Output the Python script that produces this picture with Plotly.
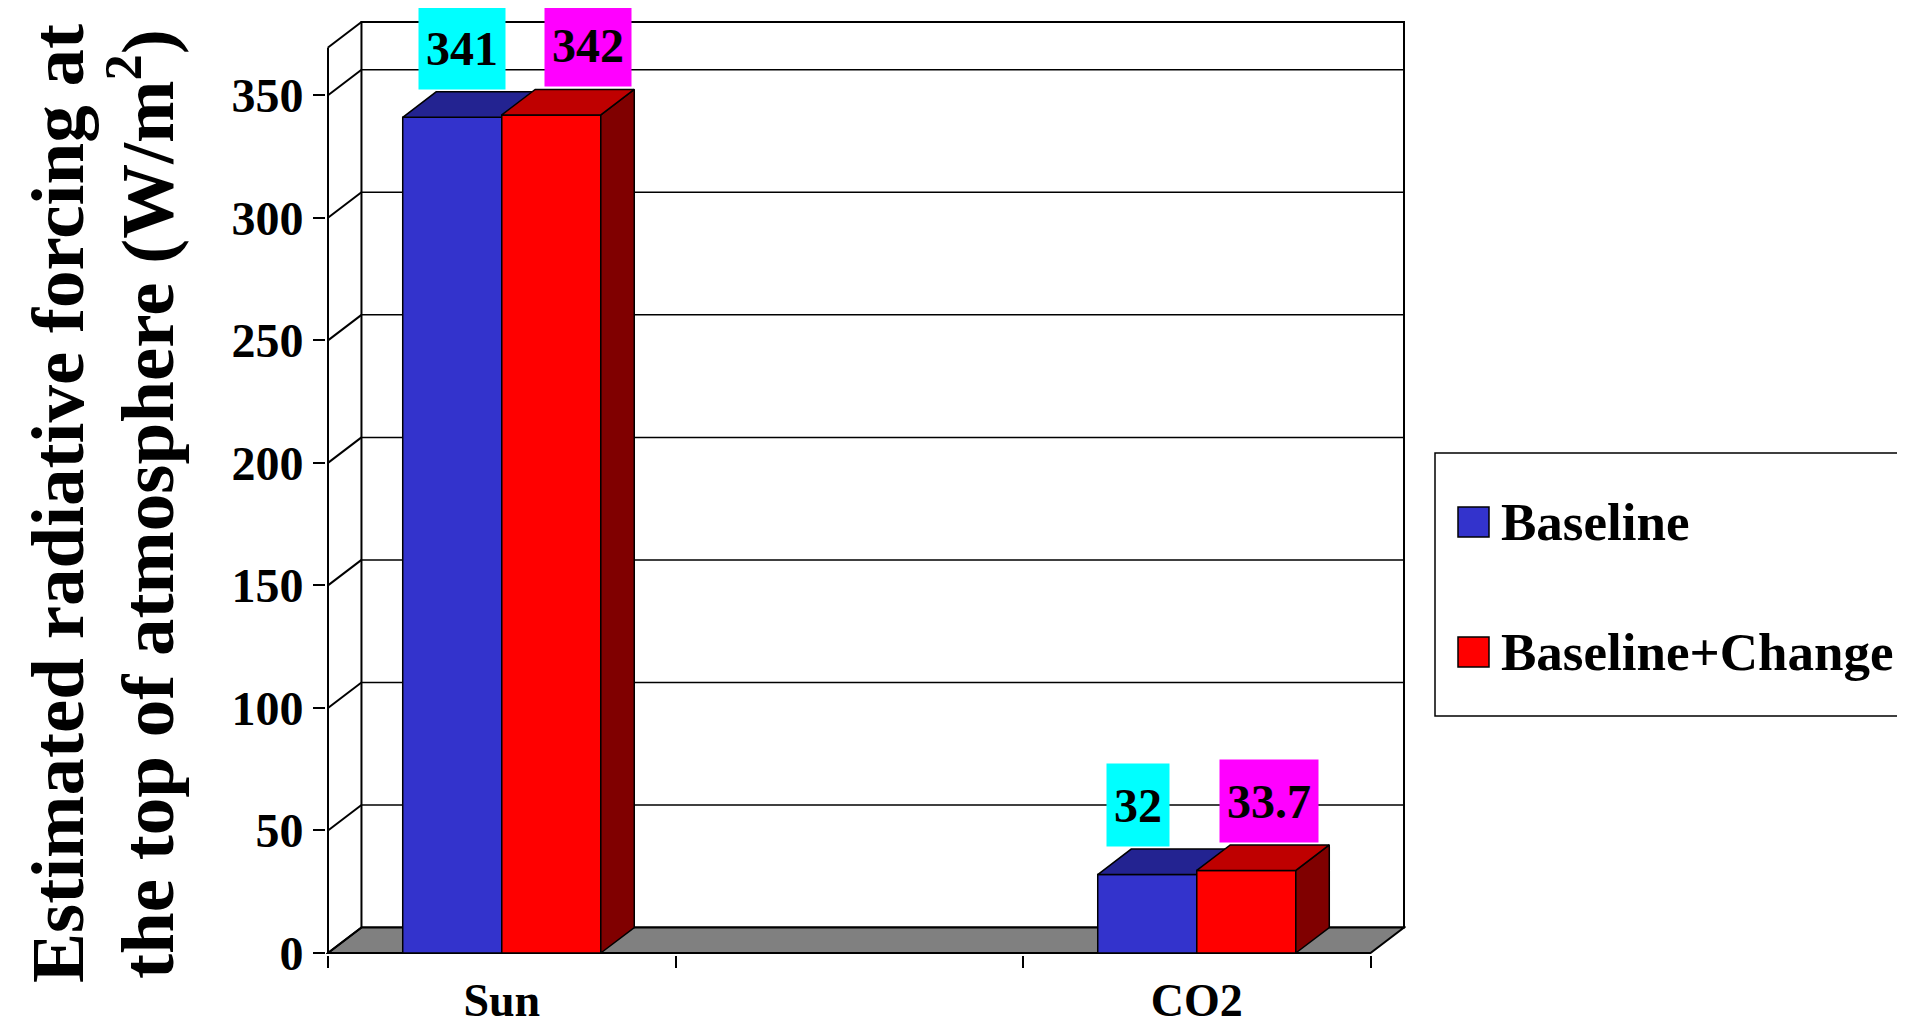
import plotly.graph_objects as go

# ---------------- data ----------------
CATEGORIES = ["Sun", " ", "CO2"]          # middle slot is an empty category
BASELINE = [341, None, 32]
BASELINE_CHANGE = [342, None, 33.7]
SERIES_NAMES = ["Baseline", "Baseline+Change"]
Y_TICKS = [0, 50, 100, 150, 200, 250, 300, 350]
Y_TITLE_LINES = ["Estimated radiative forcing at",
                 "the top of atmosphere (W/m<sup>2</sup>)"]

# ---------------- style / geometry ----------------
BODY = 8                  # default page body margin of the html page
FIG_W, FIG_H = 1905 - BODY, 1025 - BODY
PX_X, PX_Y, PAD = 347.5, 2.4507, 2
WALL_TOP = 369.5          # front height of the walls (value units)
DX = 0.0963               # 3D depth offset, x units
DY = 10.4                 # 3D depth offset, value units
BAR_W = 0.285
FONT = "Liberation Serif, Times New Roman, serif"
FRONT = ["#3333CC", "#FF0000"]
TOP = ["#232391", "#BF0000"]
SIDE = ["#1A1A66", "#800000"]
LABEL_BG = ["#00FFFF", "#FF00FF"]
LABEL_XSHIFT = [[-7, 0, -26], [20, 0, 6]]   # per-label nudges (px)
OFFSETS = [-BAR_W, 0.0]

L_PX, R_PX, T_PX, B_PX = 328 - PAD - BODY, 1404 + PAD - BODY, 22 - PAD - BODY, 953 + PAD - BODY
x_range = [-0.5 - PAD / PX_X, 2.5 + DX + PAD / PX_X]
y_range = [-PAD / PX_Y, WALL_TOP + DY + PAD / PX_Y]


def px_to_paper_x(px):
    return (px - BODY - L_PX) / (R_PX - L_PX)


def px_to_paper_y(py):
    return (B_PX - (py - BODY)) / (B_PX - T_PX)


xpos = list(range(len(CATEGORIES)))


def faces(offset, values):
    tx, ty, sx, sy = [], [], [], []
    for x, v in zip(xpos, values):
        if v is None:
            continue
        xl = x + offset
        xr = xl + BAR_W
        tx += [xl, xr, xr + DX, xl + DX, xl, None]
        ty += [v, v, v + DY, v + DY, v, None]
        sx += [xr, xr, xr + DX, xr + DX, xr, None]
        sy += [0, v, v + DY, DY, 0, None]
    return tx, ty, sx, sy


fig = go.Figure()
all_series = [BASELINE, BASELINE_CHANGE]
axes_pairs = [("x", "y"), ("x2", "y2")]
annotations = []
for i, (vals, name) in enumerate(zip(all_series, SERIES_NAMES)):
    xa, ya = axes_pairs[i]
    fig.add_trace(go.Bar(
        x=xpos, y=vals, name=name, offset=OFFSETS[i], width=BAR_W,
        marker=dict(color=FRONT[i], line=dict(color="black", width=1.5)),
        xaxis=xa, yaxis=ya, showlegend=False, hoverinfo="x+y"))
    tx, ty, sx, sy = faces(OFFSETS[i], vals)
    fig.add_trace(go.Scatter(
        x=sx, y=sy, mode="lines", fill="toself", fillcolor=SIDE[i],
        line=dict(color="black", width=1.5), xaxis=xa, yaxis=ya,
        showlegend=False, hoverinfo="skip"))
    fig.add_trace(go.Scatter(
        x=tx, y=ty, mode="lines", fill="toself", fillcolor=TOP[i],
        line=dict(color="black", width=1.5), xaxis=xa, yaxis=ya,
        showlegend=False, hoverinfo="skip"))
    for j, (x, v) in enumerate(zip(xpos, vals)):
        if v is None:
            continue
        annotations.append(dict(
            x=x + OFFSETS[i] + BAR_W / 2 + DX / 2, y=v + DY, xref="x", yref="y",
            text=f"{v:g}", showarrow=False, xanchor="center", yanchor="bottom",
            xshift=LABEL_XSHIFT[i][j], yshift=2, bgcolor=LABEL_BG[i], borderpad=7,
            height=68, valign="middle",
            font=dict(family=FONT, size=48, color="black", weight="bold")))

# ---------------- walls, floor, grid ----------------
shapes = []
shapes.append(dict(type="rect", xref="x", yref="y", layer="below",
                   x0=-0.5 + DX, x1=2.5 + DX, y0=DY, y1=WALL_TOP + DY,
                   fillcolor="white", line=dict(color="black", width=2)))
for v in Y_TICKS[1:]:
    shapes.append(dict(type="line", xref="x", yref="y", layer="below",
                       x0=-0.5 + DX, x1=2.5 + DX, y0=v + DY, y1=v + DY,
                       line=dict(color="black", width=1.5)))
shapes.append(dict(type="path", xref="x", yref="y", layer="below",
                   path=f"M {-0.5},0 L {2.5},0 L {2.5 + DX},{DY} L {-0.5 + DX},{DY} Z",
                   fillcolor="#808080", line=dict(color="black", width=2)))
for v in Y_TICKS + [WALL_TOP]:
    shapes.append(dict(type="line", xref="x", yref="y", layer="below",
                       x0=-0.5, x1=-0.5 + DX, y0=v, y1=v + DY,
                       line=dict(color="black", width=2)))
shapes.append(dict(type="line", xref="x", yref="y", layer="below",
                   x0=-0.5, x1=-0.5, y0=0, y1=WALL_TOP,
                   line=dict(color="black", width=2)))

# ---------------- manual legend ----------------
LEG_BOX = (1435, 1915, 453, 716)
LEG_ROWS = [522, 652]
shapes.append(dict(type="rect", xref="paper", yref="paper",
                   x0=px_to_paper_x(LEG_BOX[0]), x1=px_to_paper_x(LEG_BOX[1]),
                   y0=px_to_paper_y(LEG_BOX[3]), y1=px_to_paper_y(LEG_BOX[2]),
                   fillcolor="white", line=dict(color="black", width=1.5)))
for i, name in enumerate(SERIES_NAMES):
    yc = LEG_ROWS[i]
    shapes.append(dict(type="rect", xref="paper", yref="paper",
                       x0=px_to_paper_x(1458), x1=px_to_paper_x(1489),
                       y0=px_to_paper_y(yc + 15), y1=px_to_paper_y(yc - 15),
                       fillcolor=FRONT[i], line=dict(color="black", width=1.5)))
    annotations.append(dict(
        x=px_to_paper_x(1499), y=px_to_paper_y(yc), xref="paper", yref="paper",
        text=name, showarrow=False, xanchor="left", yanchor="middle",
        font=dict(family=FONT, size=53, color="black", weight="bold")))

# ---------------- axis title (two rotated lines) ----------------
TITLE_X_PX = [58, 142]
for line, xc in zip(Y_TITLE_LINES, TITLE_X_PX):
    annotations.append(dict(
        x=px_to_paper_x(xc), y=px_to_paper_y(504), xref="paper", yref="paper",
        text=line, showarrow=False, textangle=-90, xanchor="center", yanchor="middle",
        font=dict(family=FONT, size=75, color="black", weight="bold")))

axis_font = dict(family=FONT, size=48, color="black", weight="bold")
fig.update_layout(
    width=FIG_W, height=FIG_H,
    margin=dict(l=L_PX, r=FIG_W - R_PX, t=T_PX, b=FIG_H - B_PX, autoexpand=False),
    paper_bgcolor="white", plot_bgcolor="white",
    barmode="overlay", showlegend=False,
    xaxis=dict(range=x_range, tickmode="array", tickvals=xpos, ticktext=CATEGORIES,
               ticks="", showgrid=False, zeroline=False, showline=False,
               tickfont=dict(family=FONT, size=46, color="black", weight="bold"),
               ticklabelstandoff=14,
               minor=dict(tick0=-0.5, dtick=1, ticks="outside", ticklen=12,
                          tickwidth=2, tickcolor="black", showgrid=False)),
    yaxis=dict(range=y_range, tickmode="array", tickvals=Y_TICKS,
               ticks="outside", ticklen=12, tickwidth=2, tickcolor="black",
               showgrid=False, zeroline=False, showline=False, tickfont=axis_font),
    xaxis2=dict(range=x_range, overlaying="x", visible=False),
    yaxis2=dict(range=y_range, overlaying="y", visible=False),
    shapes=shapes, annotations=annotations,
)

fig.write_html("out.html")
